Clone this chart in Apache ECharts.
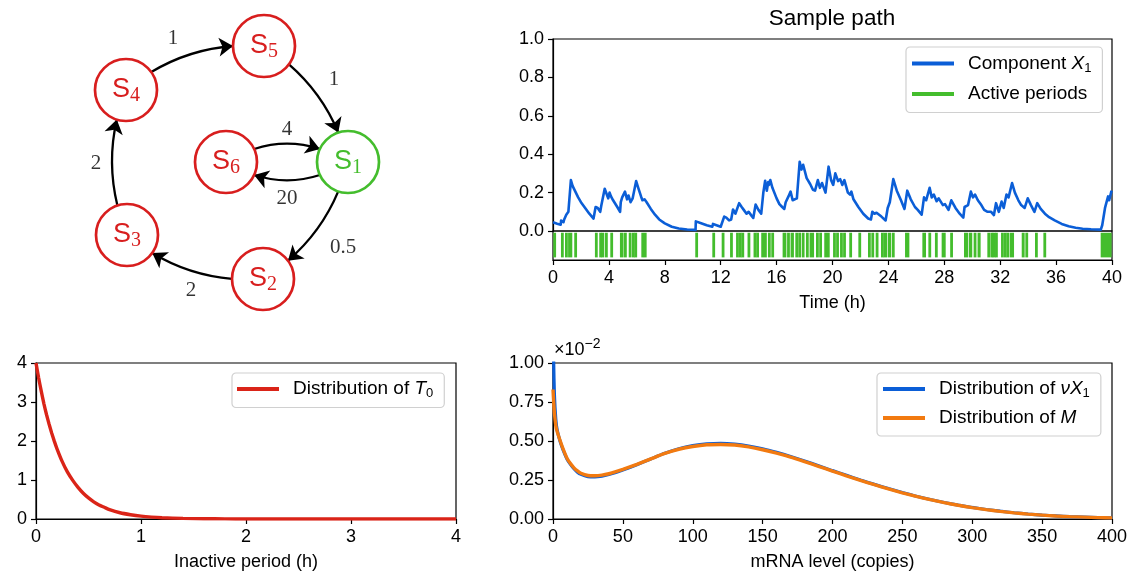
<!DOCTYPE html>
<html><head><meta charset="utf-8">
<script src="https://cdn.jsdelivr.net/npm/echarts@6/dist/echarts.min.js"></script>
<style>html,body{margin:0;padding:0;background:#fff}#c{width:1136px;height:580px}</style>
</head><body><div id="c"></div>
<script>
// ================= DATA =================
// State network (Markov chain of the promoter)
const stateNames = ['S1', 'S2', 'S3', 'S4', 'S5', 'S6'];
const activeStates = ['S1'];
const transitions = [
  ['S4', 'S5', '1'], ['S5', 'S1', '1'], ['S1', 'S2', '0.5'], ['S2', 'S3', '2'],
  ['S3', 'S4', '2'], ['S6', 'S1', '4'], ['S1', 'S6', '20']
];

// Sample path: component X1 over time (h)
const pathTime = [0, 0.3, 0.55, 0.58, 0.75, 0.8, 0.9, 0.95, 1.05, 1.1, 1.28, 1.4, 1.6, 1.8, 2.0, 2.3, 2.6, 2.9, 3.0, 3.05, 3.2, 3.38, 3.45, 3.7, 3.85, 3.95, 4.05, 4.15, 4.3, 4.4, 4.6, 4.8, 4.85, 4.95, 5.15, 5.3, 5.4, 5.55, 5.7, 5.8, 5.95, 6.1, 6.3, 6.4, 6.55, 6.7, 7.0, 7.3, 7.6, 8.0, 8.5, 9.0, 9.6, 10.2, 10.22, 10.6, 11.0, 11.4, 11.45, 11.6, 12.0, 12.1, 12.25, 12.4, 12.6, 12.75, 12.88, 13.05, 13.15, 13.32, 13.5, 13.65, 13.85, 14.0, 14.2, 14.33, 14.5, 14.7, 14.9, 15.05, 15.18, 15.3, 15.4, 15.45, 15.55, 15.7, 16.0, 16.2, 16.4, 16.55, 16.65, 16.85, 17.0, 17.15, 17.45, 17.65, 17.78, 17.9, 18.15, 18.4, 18.6, 18.75, 18.95, 19.1, 19.25, 19.5, 19.6, 19.72, 19.9, 20.05, 20.2, 20.4, 20.55, 20.7, 20.85, 21.1, 21.25, 21.35, 21.5, 21.85, 22.2, 22.55, 22.75, 22.85, 23.0, 23.15, 23.5, 23.8, 23.95, 24.1, 24.35, 24.6, 24.9, 25.15, 25.35, 25.6, 25.9, 26.1, 26.38, 26.55, 26.7, 26.95, 27.1, 27.25, 27.45, 27.6, 27.9, 28.05, 28.3, 28.5, 28.8, 29.1, 29.36, 29.45, 29.7, 29.9, 30.05, 30.2, 30.4, 30.65, 30.85, 31.1, 31.35, 31.55, 31.7, 31.9, 32.1, 32.25, 32.45, 32.6, 32.85, 33.05, 33.3, 33.5, 33.75, 33.97, 34.2, 34.45, 34.65, 34.9, 35.2, 35.5, 35.9, 36.4, 36.9, 37.4, 37.9, 38.5, 39.2, 39.3, 39.5, 39.6, 39.72, 39.8, 39.95, 40];
const pathX1 = [0.045, 0.038, 0.033, 0.055, 0.046, 0.06, 0.055, 0.085, 0.09, 0.1, 0.265, 0.235, 0.205, 0.175, 0.15, 0.12, 0.09, 0.065, 0.058, 0.125, 0.12, 0.1, 0.13, 0.22, 0.19, 0.17, 0.2, 0.18, 0.16, 0.165, 0.125, 0.1, 0.15, 0.175, 0.205, 0.165, 0.185, 0.15, 0.17, 0.16, 0.26, 0.225, 0.18, 0.16, 0.165, 0.15, 0.115, 0.085, 0.06, 0.04, 0.022, 0.013, 0.008, 0.006, 0.05, 0.04, 0.03, 0.022, 0.037, 0.033, 0.022, 0.025, 0.075, 0.07, 0.055, 0.06, 0.112, 0.09, 0.1, 0.145, 0.125, 0.11, 0.09, 0.1, 0.08, 0.068, 0.138, 0.11, 0.09, 0.2, 0.262, 0.21, 0.255, 0.24, 0.265, 0.225, 0.17, 0.14, 0.125, 0.115, 0.15, 0.18, 0.205, 0.16, 0.17, 0.36, 0.32, 0.345, 0.275, 0.245, 0.215, 0.21, 0.265, 0.225, 0.25, 0.2, 0.21, 0.335, 0.265, 0.24, 0.3, 0.26, 0.27, 0.24, 0.265, 0.2, 0.19, 0.205, 0.165, 0.125, 0.09, 0.065, 0.06, 0.1, 0.09, 0.095, 0.075, 0.055, 0.12, 0.15, 0.27, 0.21, 0.16, 0.115, 0.21, 0.165, 0.125, 0.11, 0.085, 0.175, 0.16, 0.225, 0.175, 0.19, 0.155, 0.17, 0.135, 0.14, 0.11, 0.16, 0.12, 0.09, 0.07, 0.125, 0.135, 0.205, 0.175, 0.19, 0.16, 0.135, 0.11, 0.1, 0.1, 0.083, 0.145, 0.1, 0.153, 0.12, 0.19, 0.175, 0.25, 0.2, 0.16, 0.135, 0.12, 0.17, 0.135, 0.1, 0.145, 0.115, 0.09, 0.072, 0.055, 0.037, 0.025, 0.017, 0.012, 0.009, 0.007, 0.03, 0.12, 0.13, 0.18, 0.16, 0.205, 0.2];

// Active periods [start, end] in hours
const activePeriods = [[0.02,0.14],[0.57,0.69],[0.86,1.05],[1.08,1.38],[1.52,1.64],[3.0,3.16],[3.31,3.42],[3.47,3.6],[3.72,3.84],[4.1,4.22],[4.79,5.05],[5.08,5.22],[5.42,5.52],[5.65,5.76],[5.82,5.99],[6.32,6.45],[6.5,6.7],[10.18,10.32],[11.4,11.53],[12.07,12.22],[12.67,12.86],[13.1,13.25],[13.3,13.45],[13.48,13.67],[13.92,14.04],[14.35,14.5],[14.54,14.62],[14.9,15.05],[15.1,15.29],[15.38,15.55],[15.62,15.76],[16.43,16.7],[16.75,16.95],[17.0,17.24],[17.34,17.5],[17.55,17.75],[17.8,18.0],[18.1,18.3],[18.36,18.68],[18.82,19.0],[19.05,19.23],[19.41,19.55],[19.6,19.77],[20.04,20.2],[20.26,20.42],[20.54,20.7],[20.76,20.89],[21.2,21.33],[21.85,21.98],[22.54,22.66],[22.78,22.96],[23.09,23.24],[23.47,23.6],[23.65,23.9],[23.95,24.2],[24.25,24.45],[25.19,25.5],[26.43,26.69],[26.86,27.04],[27.33,27.5],[27.81,28.1],[28.42,28.56],[29.41,29.7],[29.75,30.0],[30.1,30.3],[30.38,30.6],[31.08,31.2],[31.3,31.42],[31.46,31.54],[31.63,31.76],[32.06,32.22],[32.27,32.39],[32.46,32.65],[32.7,32.99],[33.54,33.75],[33.8,34.0],[34.49,34.66],[35.09,35.24],[39.19,39.97]];

// Distribution of the inactive period T0
const inactiveTime = [0, 0.025, 0.05, 0.075, 0.1, 0.125, 0.15, 0.175, 0.2, 0.25, 0.3, 0.35, 0.4, 0.45, 0.5, 0.55, 0.6, 0.65, 0.7, 0.8, 0.9, 1.0, 1.1, 1.2, 1.4, 1.6, 1.8, 2.0, 2.5, 3.0, 4.0];
const inactiveDensity = [4.0, 3.62, 3.28, 2.96, 2.68, 2.43, 2.2, 1.99, 1.8, 1.47, 1.2, 0.99, 0.81, 0.66, 0.54, 0.44, 0.36, 0.3, 0.24, 0.16, 0.11, 0.073, 0.049, 0.033, 0.015, 0.007, 0.003, 0.001, 0, 0, 0];

// mRNA distributions (x 1e-2)
const mrnaLevel = [0, 0.5, 1, 2, 3, 5, 7, 10, 12.5, 15, 17.5, 20, 25, 30, 35, 40, 45, 50, 60, 70, 80, 90, 100, 110, 120, 130, 140, 150, 160, 170, 180, 190, 200, 210, 220, 230, 240, 250, 260, 270, 280, 290, 300, 310, 320, 330, 340, 350, 360, 370, 380, 390, 400];
const densityNuX1 = [1.5, 1.0, 0.8, 0.64, 0.57, 0.5, 0.448, 0.385, 0.35, 0.322, 0.3, 0.286, 0.272, 0.27, 0.275, 0.285, 0.298, 0.314, 0.348, 0.385, 0.421, 0.45, 0.47, 0.482, 0.485, 0.48, 0.468, 0.45, 0.427, 0.401, 0.372, 0.341, 0.31, 0.28, 0.25, 0.222, 0.195, 0.17, 0.146, 0.125, 0.106, 0.089, 0.074, 0.061, 0.05, 0.04, 0.032, 0.025, 0.02, 0.015, 0.012, 0.009, 0.007];
const densityM = [0.83, 0.75, 0.68, 0.6, 0.56, 0.505, 0.455, 0.39, 0.355, 0.328, 0.308, 0.293, 0.279, 0.277, 0.281, 0.29, 0.303, 0.318, 0.35, 0.385, 0.42, 0.447, 0.465, 0.476, 0.478, 0.474, 0.462, 0.444, 0.422, 0.397, 0.368, 0.338, 0.307, 0.277, 0.248, 0.22, 0.193, 0.168, 0.145, 0.124, 0.105, 0.088, 0.073, 0.06, 0.049, 0.039, 0.031, 0.025, 0.019, 0.015, 0.012, 0.009, 0.007];

// ================= LAYOUT / STYLE =================
const FONT = '"Liberation Sans", Arial, Helvetica, sans-serif';
const NARROW = '"Liberation Sans Narrow", "Liberation Sans", Arial, sans-serif';
const SERIF = '"Liberation Serif", "Times New Roman", serif';
const RED = '#d81e1e', GREEN = '#44bd2d', BLUE = '#0b5ed7', ORANGE = '#f27a10', LRED = '#da2418';
const FS = 18, LFS = 19;
// diagram layout (pixel space of the hidden diagram axes)
const nodeXY = { S1: [348, 162], S2: [263, 279], S3: [127, 235], S4: [126, 90], S5: [264, 46], S6: [226, 162] };
const edgeCurve = [0.2, 0.2, 0.2, 0.2, 0.2, 0.3, 0.3];
const rateLabelXY = [[173, 38], [334, 79], [343, 247], [191, 290], [96, 163], [287, 129], [287, 198]];

const chart = echarts.init(document.getElementById('c'), null, { renderer: 'canvas' });

function axisCommon(extra) {
  return Object.assign({
    type: 'value',
    axisLine: { show: true, onZero: false, lineStyle: { color: '#000', width: 1.2 } },
    axisTick: { show: true, length: 5, lineStyle: { color: '#000', width: 1.2 } },
    axisLabel: { color: '#000', fontFamily: FONT, fontSize: FS, margin: 9 },
    splitLine: { show: false },
    nameTextStyle: { color: '#000', fontFamily: FONT, fontSize: FS },
    nameLocation: 'middle'
  }, extra);
}
const hiddenAxis = (extra) => Object.assign({ type: 'value', show: false, splitLine: { show: false } }, extra);
const gridBox = (o) => Object.assign({ show: true, borderColor: '#000', borderWidth: 1.2, backgroundColor: 'transparent', containLabel: false }, o);

const legendRich = {
  r: { fontFamily: FONT, fontSize: LFS, color: '#000', lineHeight: 22, verticalAlign: 'middle' },
  i: { fontFamily: FONT, fontSize: LFS, fontStyle: 'italic', color: '#000', lineHeight: 22, verticalAlign: 'middle' },
  s: { fontFamily: FONT, fontSize: 13, color: '#000', lineHeight: 22, verticalAlign: 'bottom' }
};
const legendText = {
  'Component X1': '{r|Component }{i|X}{s|1}',
  'Active periods': '{r|Active periods}',
  'Distribution of T0': '{r|Distribution of }{i|T}{s|0}',
  'Distribution of νX1': '{r|Distribution of }{i|νX}{s|1}',
  'Distribution of M': '{r|Distribution of }{i|M}'
};
function legendBox(o) {
  return Object.assign({
    orient: 'vertical', icon: 'rect', itemWidth: 42, itemHeight: 4,
    borderColor: '#d0d0d0', borderWidth: 1.2, borderRadius: 4,
    backgroundColor: 'rgba(255,255,255,0.85)', selectedMode: false,
    itemStyle: { borderWidth: 0 },
    textStyle: { fontFamily: FONT, fontSize: LFS, color: '#000', padding: [0, 0, 0, 9], rich: legendRich },
    formatter: (n) => legendText[n] || n
  }, o);
}

const nodeData = stateNames.map((n) => {
  const c = activeStates.includes(n) ? GREEN : RED;
  return {
    name: n, value: nodeXY[n],
    itemStyle: { color: '#fff', borderColor: c, borderWidth: 2.7 },
    label: {
      show: true, position: 'inside',
      formatter: '{s|S}{d|' + n.slice(1) + '}',
      rich: {
        s: { fontFamily: NARROW, fontSize: 27, color: c, lineHeight: 32, verticalAlign: 'middle' },
        d: { fontFamily: SERIF, fontSize: 20, color: c, lineHeight: 32, verticalAlign: 'bottom' }
      }
    }
  };
});
const edgeData = transitions.map((t, i) => ({ source: t[0], target: t[1], lineStyle: { curveness: edgeCurve[i] } }));
const rateLabels = transitions.map((t, i) => ({ value: rateLabelXY[i], label: { formatter: t[2] } }));

const option = {
  animation: false,
  backgroundColor: '#fff',
  title: [
    { text: 'Sample path', left: 832, top: 7, padding: 0, textAlign: 'center',
      textStyle: { fontFamily: FONT, fontSize: 22.5, fontWeight: 'normal', color: '#000' } },
    { text: '{a|×10}{b|−2}', left: 554, top: 337, padding: 0,
      textStyle: { fontWeight: 'normal', rich: {
        a: { fontFamily: FONT, fontSize: 18, fontWeight: 'normal', color: '#000', lineHeight: 22, verticalAlign: 'bottom' },
        b: { fontFamily: FONT, fontSize: 14, fontWeight: 'normal', color: '#000', lineHeight: 22, verticalAlign: 'top' } } } }
  ],
  grid: [
    { left: 0, top: 0, width: 420, height: 320, show: false },
    gridBox({ left: 553, top: 39, width: 559, height: 192 }),
    gridBox({ left: 553, top: 231, width: 559, height: 29 }),
    gridBox({ left: 36, top: 363, width: 420, height: 156 }),
    gridBox({ left: 553, top: 363, width: 559, height: 156 })
  ],
  xAxis: [
    hiddenAxis({ gridIndex: 0, min: 0, max: 420 }),
    hiddenAxis({ gridIndex: 1, min: 0, max: 40 }),
    axisCommon({ gridIndex: 2, min: 0, max: 40, interval: 4, name: 'Time (h)', nameGap: 34 }),
    axisCommon({ gridIndex: 3, min: 0, max: 4, interval: 1, name: 'Inactive period (h)', nameGap: 34 }),
    axisCommon({ gridIndex: 4, min: 0, max: 400, interval: 50, name: 'mRNA level (copies)', nameGap: 34 })
  ],
  yAxis: [
    hiddenAxis({ gridIndex: 0, min: 0, max: 320, inverse: true }),
    axisCommon({ gridIndex: 1, min: 0, max: 1, interval: 0.2, axisLabel: { color: '#000', fontFamily: FONT, fontSize: FS, margin: 9, formatter: (v) => v.toFixed(1) } }),
    hiddenAxis({ gridIndex: 2, min: 0, max: 1 }),
    axisCommon({ gridIndex: 3, min: 0, max: 4, interval: 1 }),
    axisCommon({ gridIndex: 4, min: 0, max: 1, interval: 0.25, axisLabel: { color: '#000', fontFamily: FONT, fontSize: FS, margin: 9, formatter: (v) => v.toFixed(2) } })
  ],
  legend: [
    legendBox({ left: 906, top: 47, padding: [7, 11, 9, 6], itemGap: 10, data: ['Component X1', 'Active periods'] }),
    legendBox({ left: 232, top: 373, padding: [6.5, 11, 7.5, 5], data: ['Distribution of T0'] }),
    legendBox({ left: 877, top: 373, padding: [6.5, 11, 8.5, 6], itemGap: 8.5, data: ['Distribution of νX1', 'Distribution of M'] })
  ],
  series: [
    {
      type: 'graph', coordinateSystem: 'cartesian2d', xAxisIndex: 0, yAxisIndex: 0,
      symbol: 'circle', symbolSize: 62, roam: false, silent: true,
      edgeSymbol: ['circle', 'arrow'], edgeSymbolSize: [0, 14],
      lineStyle: { color: '#000', width: 2.3, opacity: 1 },
      data: nodeData, edges: edgeData, z: 3
    },
    {
      type: 'scatter', coordinateSystem: 'cartesian2d', xAxisIndex: 0, yAxisIndex: 0,
      symbolSize: 1, itemStyle: { color: 'rgba(0,0,0,0)' }, silent: true,
      label: { show: true, position: 'inside', fontFamily: SERIF, fontSize: 21, color: '#000' },
      data: rateLabels, z: 4
    },
    {
      name: 'Component X1', type: 'line', xAxisIndex: 1, yAxisIndex: 1,
      data: pathTime.map((t, i) => [t, pathX1[i]]),
      symbol: 'none', clip: true,
      itemStyle: { color: BLUE }, lineStyle: { color: BLUE, width: 2.6, join: 'round' }, z: 5
    },
    {
      name: 'Active periods', type: 'custom', xAxisIndex: 2, yAxisIndex: 2,
      itemStyle: { color: GREEN },
      encode: { x: [0, 1] },
      data: activePeriods,
      renderItem: function (params, api) {
        const a = api.coord([api.value(0), 0.94]);
        const b = api.coord([api.value(1), 0.09]);
        return { type: 'rect', shape: { x: a[0], y: a[1], width: Math.max(b[0] - a[0], 2.8), height: b[1] - a[1] }, style: { fill: GREEN } };
      }
    },
    {
      name: 'Distribution of T0', type: 'line', xAxisIndex: 3, yAxisIndex: 3,
      data: inactiveTime.map((t, i) => [t, inactiveDensity[i]]),
      symbol: 'none', smooth: 0.2, clip: true,
      itemStyle: { color: LRED }, lineStyle: { color: LRED, width: 3.4 }
    },
    {
      name: 'Distribution of νX1', type: 'line', xAxisIndex: 4, yAxisIndex: 4,
      data: mrnaLevel.map((t, i) => [t, densityNuX1[i]]),
      symbol: 'none', smooth: 0.2, clip: true,
      itemStyle: { color: BLUE }, lineStyle: { color: BLUE, width: 3.2 }
    },
    {
      name: 'Distribution of M', type: 'line', xAxisIndex: 4, yAxisIndex: 4,
      data: mrnaLevel.map((t, i) => [t, densityM[i]]),
      symbol: 'none', smooth: 0.2, clip: true,
      itemStyle: { color: ORANGE }, lineStyle: { color: ORANGE, width: 3.4 }
    }
  ]
};
chart.setOption(option);
</script>
</body></html>
